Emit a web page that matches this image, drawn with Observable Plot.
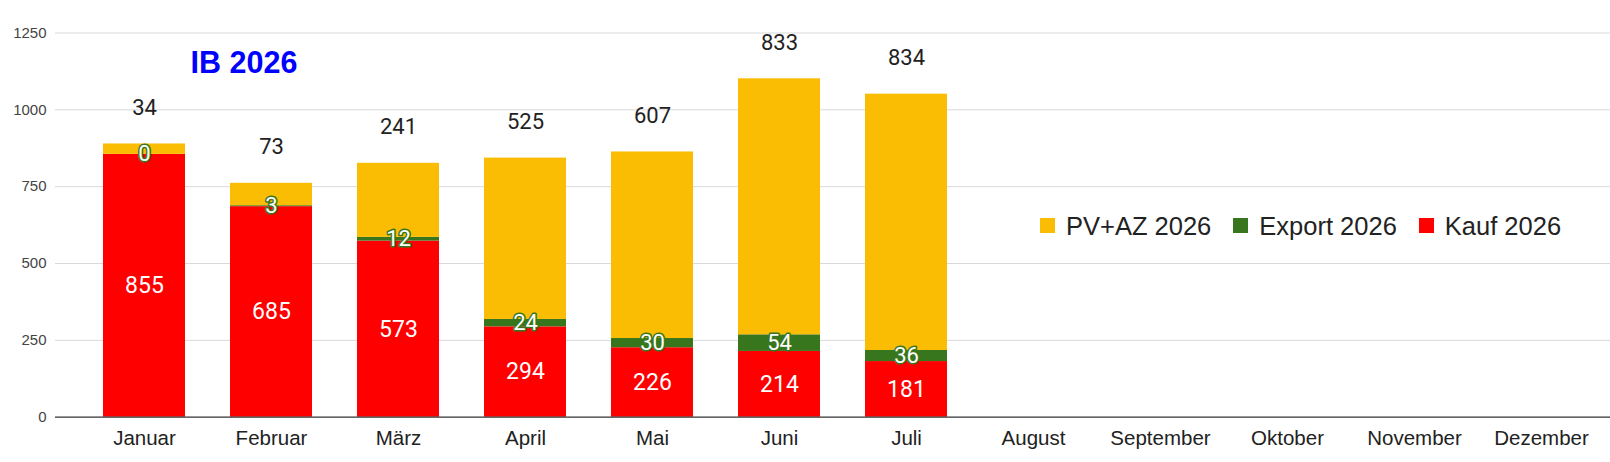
<!DOCTYPE html>
<html>
<head>
<meta charset="utf-8">
<script src="https://cdn.jsdelivr.net/npm/d3@7"></script>
<script src="https://cdn.jsdelivr.net/npm/@observablehq/plot@0.6"></script>
<style>
  html, body { margin: 0; padding: 0; background: #fff; }
  #wrap { position: relative; width: 1610px; height: 462px; overflow: hidden; }
  #title { position: absolute; left: 244px; top: 47px; transform: translateX(-50%);
    font: bold 30.5px "Liberation Sans", Arial, sans-serif; line-height: 30px; color: #0000ff; white-space: nowrap; }
  #legend { position: absolute; left: 1040px; top: 212.5px; display: flex; align-items: center;
    font: 25.5px "Liberation Sans", Arial, sans-serif; line-height: 26px; color: #222; white-space: nowrap; }
  #legend .item { display: flex; align-items: center; margin-right: 22px; }
  #legend .sw { width: 15px; height: 15px; margin-right: 11px; }
</style>
</head>
<body>
<div id="wrap">
  <div id="chart"></div>
  <div id="title">IB 2026</div>
  <div id="legend"></div>
</div>
<script>
const months = ["Januar","Februar","März","April","Mai","Juni","Juli","August","September","Oktober","November","Dezember"];
const kauf   = [855, 685, 573, 294, 226, 214, 181];
const exportV = [0, 3, 12, 24, 30, 54, 36];
const pvaz   = [34, 73, 241, 525, 607, 833, 834];
const yTicks = [0, 250, 500, 750, 1000, 1250];
const seriesNames = ["PV+AZ 2026", "Export 2026", "Kauf 2026"];
const seriesColors = ["#fbbc04", "#38761d", "#ff0000"];

// build tables from the arrays
const rows = kauf.map((k, i) => ({
  month: months[i], kauf: k, exp: exportV[i], pv: pvaz[i]
}));
const segs = [];
rows.forEach(r => {
  segs.push({month: r.month, series: "Kauf 2026", y1: 0, y2: r.kauf});
  segs.push({month: r.month, series: "Export 2026", y1: r.kauf, y2: r.kauf + r.exp});
  segs.push({month: r.month, series: "PV+AZ 2026", y1: r.kauf + r.exp, y2: r.kauf + r.exp + r.pv});
});

const chart = Plot.plot({
  width: 1610,
  height: 462,
  marginLeft: 55,
  marginRight: 0,
  marginTop: 32.5,
  marginBottom: 45.3,
  style: { fontFamily: "'Liberation Sans', Arial, sans-serif", background: "white", overflow: "visible" },
  x: { domain: months, range: [78.3, 1607.1], paddingInner: 0.356, paddingOuter: 0.178, label: null, axis: null },
  y: { domain: [0, 1250], label: null, axis: null },
  color: { domain: seriesNames, range: seriesColors },
  marks: [
    Plot.ruleY(yTicks.filter(d => d > 0), { stroke: "#d9d9d9", strokeWidth: 1 }),
    Plot.axisY({ ticks: yTicks, tickFormat: d3.format("d"), tickSize: 0, tickPadding: 9, fontSize: 15, fill: "#444", label: null }),
    Plot.axisX({ tickSize: 0, tickPadding: 13, fontSize: 20.5, fill: "#222", label: null }),
    Plot.rectY(segs, { x: "month", y1: "y1", y2: "y2", fill: d => d.series, interval: null }),
    Plot.ruleY([0], { stroke: "#333", strokeWidth: 1.3 }),
    Plot.text(rows, { x: "month", y: d => d.kauf / 2, text: d => String(d.kauf),
      fill: "white", fontSize: 23, fontFamily: "Roboto" }),
    Plot.text(rows, { x: "month", y: d => d.kauf + d.exp / 2, text: d => String(d.exp),
      fill: "white", stroke: "#38761d", strokeWidth: 3, paintOrder: "stroke",
      fontSize: 22, fontFamily: "Roboto" }),
    Plot.text(rows, { x: "month", y: d => d.kauf + d.exp + d.pv, dy: -36, text: d => String(d.pv),
      fill: "#222", fontSize: 22, fontFamily: "Roboto" })
  ]
});
document.getElementById("chart").appendChild(chart);

const legend = document.getElementById("legend");
seriesNames.forEach((n, i) => {
  const it = document.createElement("div");
  it.className = "item";
  const sw = document.createElement("div");
  sw.className = "sw";
  sw.style.background = seriesColors[i];
  const t = document.createElement("span");
  t.textContent = n;
  it.appendChild(sw); it.appendChild(t);
  legend.appendChild(it);
});
</script>
</body>
</html>
